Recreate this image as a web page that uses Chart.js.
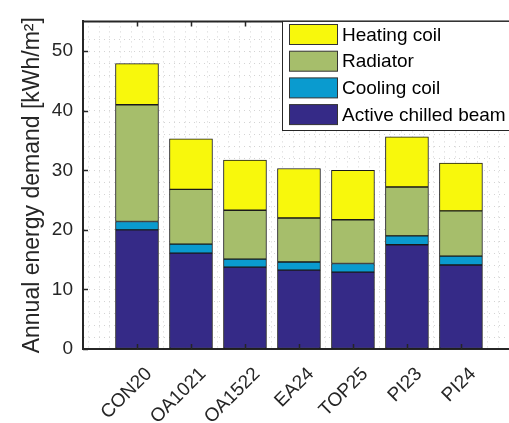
<!DOCTYPE html>
<html>
<head>
<meta charset="utf-8">
<script src="https://cdn.jsdelivr.net/npm/chart.js@4.4.1/dist/chart.umd.min.js"></script>
<style>
  html, body { margin: 0; padding: 0; background: #fff; overflow: hidden; }
  #wrap { width: 509px; height: 423px; }
</style>
</head>
<body>
<div id="wrap"><canvas id="chart" width="509" height="423"></canvas></div>
<script>
// chart data
const categories = ['CON20', 'OA1021', 'OA1522', 'EA24', 'TOP25', 'PI23', 'PI24'];
const chilledBeam = [20.0, 16.1, 13.75, 13.25, 12.9, 17.5, 14.1];
const coolingCoil = [1.4, 1.5, 1.35, 1.35, 1.45, 1.5, 1.5];
const radiator = [19.6, 9.2, 8.2, 7.4, 7.35, 8.2, 7.6];
const heatingCoil = [6.9, 8.5, 8.4, 8.3, 8.3, 8.4, 8.0];
const yTicks = [0, 10, 20, 30, 40, 50];

const axisColor = '#262626';
const fontFamily = "'Liberation Sans', Arial, Helvetica, sans-serif";

function toPoints(values) {
  return values.map((v, i) => ({ x: i + 1, y: v }));
}

const datasets = [
  { label: 'Active chilled beam', data: toPoints(chilledBeam), backgroundColor: '#352A87' },
  { label: 'Cooling coil', data: toPoints(coolingCoil), backgroundColor: '#0A9BCF' },
  { label: 'Radiator', data: toPoints(radiator), backgroundColor: '#A6BE6B' },
  { label: 'Heating coil', data: toPoints(heatingCoil), backgroundColor: '#F8F80C' }
].map(d => Object.assign(d, {
  borderColor: '#1a1a1a',
  borderWidth: 1,
  borderSkipped: false,
  barThickness: 43
}));

// inward tick marks, top border and the legend box
const axesExtras = {
  id: 'axesExtras',
  afterDatasetsDraw(chart) {
    const { ctx, chartArea, scales } = chart;
    ctx.save();
    ctx.strokeStyle = axisColor;
    ctx.lineWidth = 2;
    ctx.beginPath();
    ctx.moveTo(chartArea.left, chartArea.top);
    ctx.lineTo(chartArea.right + 2, chartArea.top);
    ctx.stroke();
    ctx.lineWidth = 1.5;
    yTicks.forEach(v => {
      const y = Math.round(scales.y.getPixelForValue(v)) + 0.5;
      ctx.beginPath();
      ctx.moveTo(chartArea.left, y);
      ctx.lineTo(chartArea.left + 5, y);
      ctx.stroke();
    });
    categories.forEach((c, i) => {
      const x = Math.round(scales.x.getPixelForValue(i + 1)) + 0.5;
      ctx.beginPath();
      ctx.moveTo(x, chartArea.bottom);
      ctx.lineTo(x, chartArea.bottom - 5);
      ctx.moveTo(x, chartArea.top);
      ctx.lineTo(x, chartArea.top + 5);
      ctx.stroke();
    });
    ctx.restore();
  },
  afterDraw(chart) {
    const { ctx, chartArea } = chart;
    const boxLeft = 282.5, boxTop = chartArea.top, boxBottom = 130.5;
    ctx.save();
    ctx.fillStyle = '#fff';
    ctx.fillRect(boxLeft, boxTop, 240, boxBottom - boxTop);
    ctx.strokeStyle = axisColor;
    ctx.lineWidth = 1;
    ctx.strokeRect(boxLeft, boxTop, 240, boxBottom - boxTop);
    const items = chart.data.datasets.slice().reverse();
    ctx.font = '19px ' + fontFamily;
    ctx.textBaseline = 'middle';
    items.forEach((ds, i) => {
      const y = 24.5 + i * 26.7;
      ctx.fillStyle = ds.backgroundColor;
      ctx.fillRect(289.5, y, 48, 20);
      ctx.strokeStyle = '#333';
      ctx.strokeRect(289.5, y, 48, 20);
      ctx.fillStyle = '#000';
      ctx.fillText(ds.label, 342, y + 11);
    });
    ctx.restore();
  }
};

const xTickValues = [];
for (let k = 0; k < 40; k++) xTickValues.push(k / 5);

new Chart(document.getElementById('chart').getContext('2d'), {
  type: 'bar',
  data: { datasets: datasets },
  plugins: [axesExtras],
  options: {
    responsive: false,
    animation: false,
    layout: { padding: { top: 18, left: 0, right: 0, bottom: 0 } },
    plugins: { legend: { display: false }, tooltip: { enabled: false } },
    scales: {
      x: {
        type: 'linear',
        stacked: true,
        min: 0,
        max: 7.89,
        offset: false,
        afterBuildTicks: scale => { scale.ticks = xTickValues.map(v => ({ value: v })); },
        afterFit: scale => { scale.height = 74; scale.paddingRight = 0; scale.paddingLeft = 0; },
        ticks: {
          autoSkip: false,
          minRotation: 45,
          maxRotation: 45,
          padding: 14,
          labelOffset: 12,
          color: axisColor,
          font: { family: fontFamily, size: 19 },
          callback: v => {
            const i = Math.round(v);
            return (Math.abs(v - i) < 1e-6 && i >= 1 && i <= categories.length) ? categories[i - 1] : '';
          }
        },
        grid: { color: '#d4d4d4', drawTicks: false, lineWidth: 1 },
        border: { display: true, color: axisColor, width: 2, dash: [1, 4] }
      },
      y: {
        stacked: true,
        min: 0,
        max: 55,
        afterFit: scale => { scale.width = 83; },
        ticks: {
          stepSize: 2,
          autoSkip: false,
          padding: 10,
          color: axisColor,
          font: { family: fontFamily, size: 19 },
          callback: v => (yTicks.includes(v) ? String(v) : '')
        },
        grid: { color: '#d4d4d4', drawTicks: false, lineWidth: 1 },
        border: { display: true, color: axisColor, width: 2, dash: [1, 4] },
        title: {
          display: true,
          text: 'Annual energy demand [kWh/m²]',
          color: axisColor,
          font: { family: fontFamily, size: 23 },
          padding: { top: 19, bottom: 0 }
        }
      }
    }
  }
});
</script>
</body>
</html>
